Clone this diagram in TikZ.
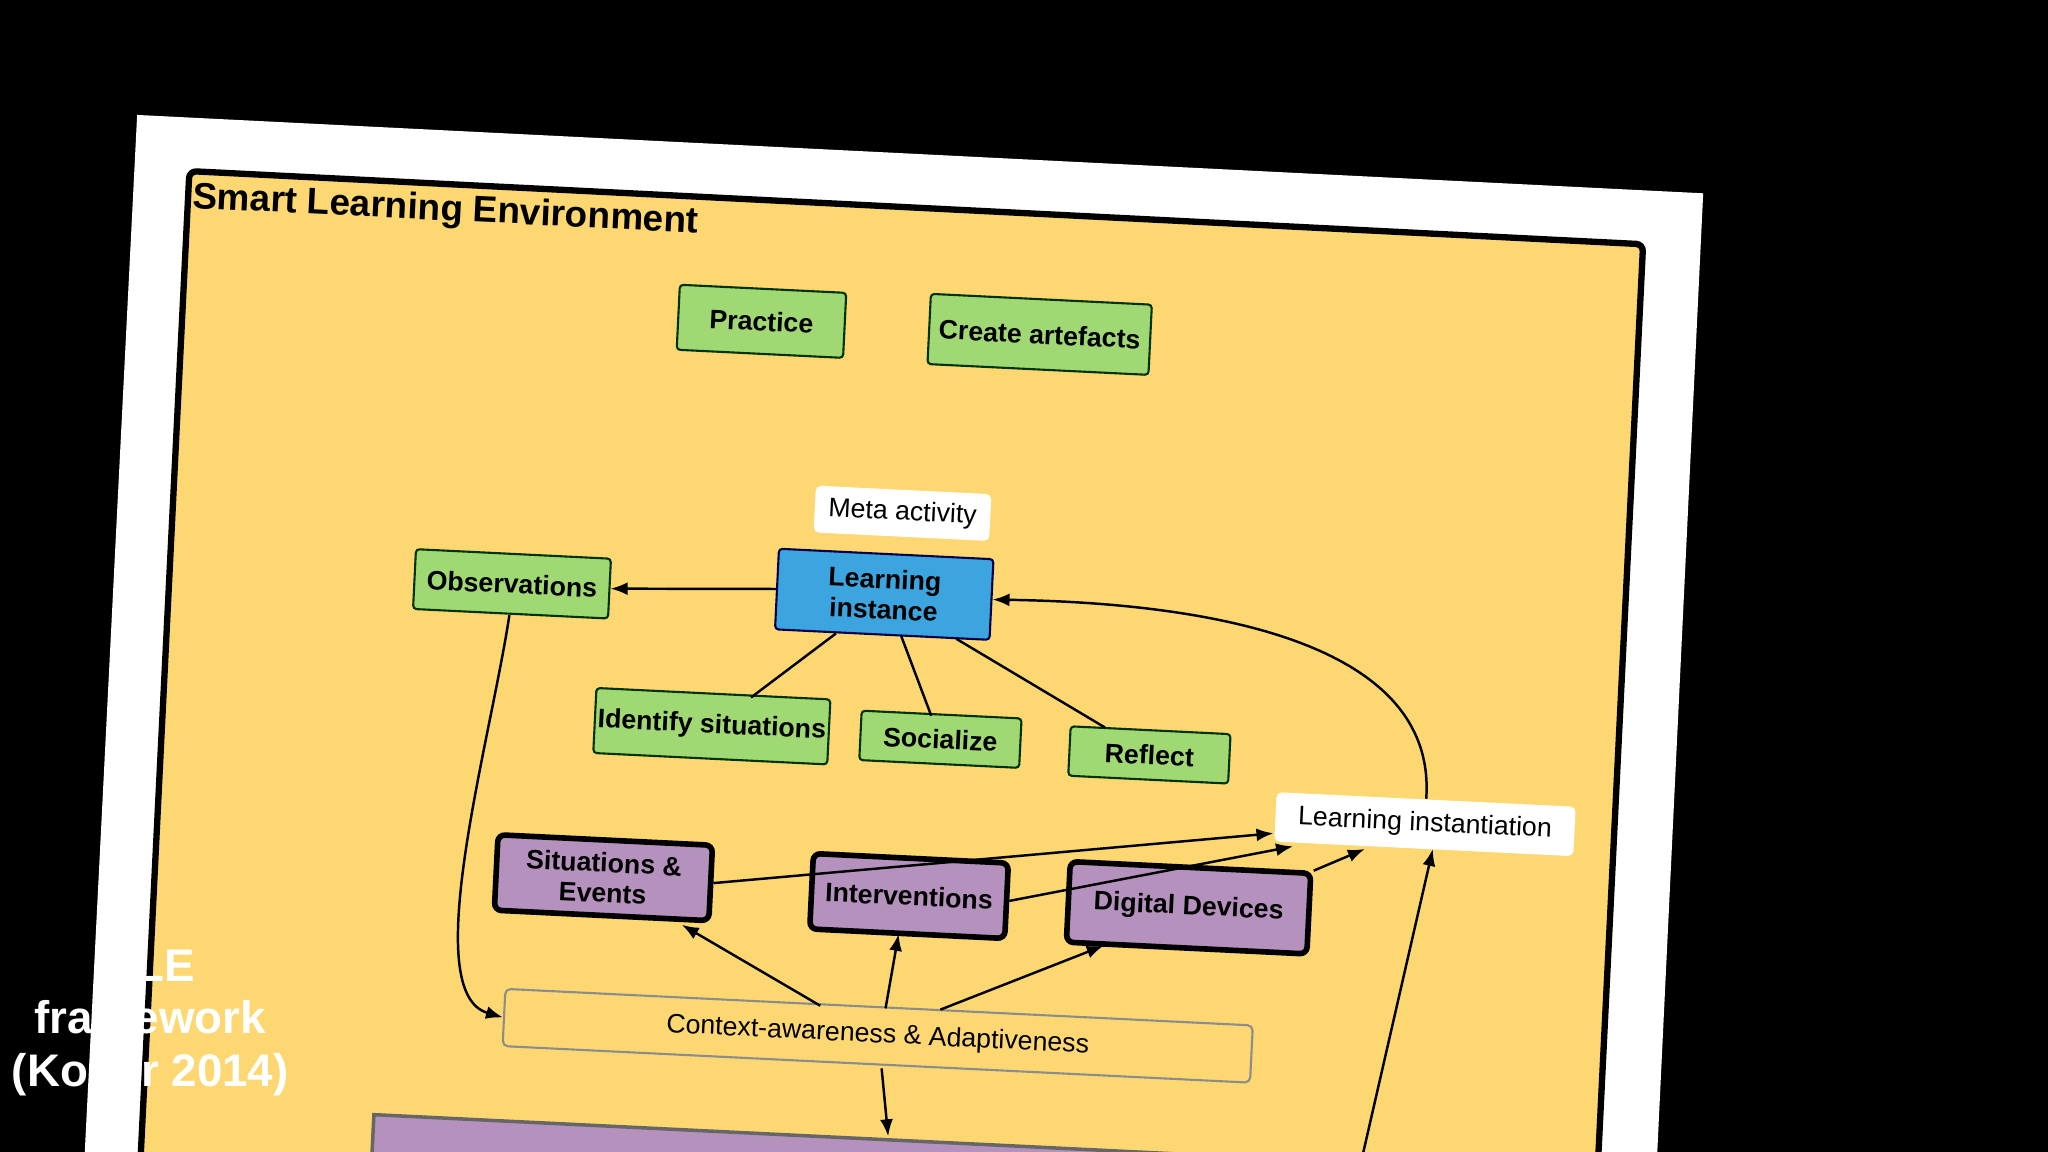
\documentclass[tikz,border=0pt]{standalone}
\usepackage{fontspec}
\setmainfont{Liberation Sans}
\usetikzlibrary{arrows.meta}
\pgfdeclarelayer{back}\pgfdeclarelayer{lines}
\pgfsetlayers{back,lines,main}
\definecolor{frameyel}{HTML}{FDD872}
\definecolor{boxgreen}{HTML}{A0D874}
\definecolor{boxblue}{HTML}{3CA4DE}
\definecolor{boxpurple}{HTML}{B592BE}
\begin{document}
\begin{tikzpicture}[x=0.01306cm,y=-0.01306cm,
 sz/.style 2 args={minimum width=#1*0.3703pt,minimum height=#2*0.3703pt},
 base/.style={rotate=-2.8,align=center,inner sep=0pt,font=\fontsize{7.6}{8.6}\selectfont\bfseries},
 green/.style={base,draw=black!60!green!50!black,fill=boxgreen,line width=0.6pt,rounded corners=1pt},
 wbox/.style={base,fill=white,rounded corners=1.5pt,font=\fontsize{7.6}{8.6}\selectfont},
 purp/.style={base,draw=black,fill=boxpurple,line width=1.6pt,rounded corners=2pt},
 arr/.style={-{Latex[length=1.7mm,width=1.3mm]},line width=0.7pt},
 ln/.style={line width=0.7pt}]
\useasboundingbox (0,0) rectangle (1568,882);
\fill[black] (0,0) rectangle (1568,882);
\fill[white] (105,88) -- (1304,148) -- (1268,900) -- (64,900) -- cycle;
\filldraw[fill=frameyel,draw=black,line width=1.8pt,rounded corners=2pt] (145,131) -- (1258,187) -- (1222,920) -- (106,920) -- cycle;
\node[base,anchor=west,font=\fontsize{10.5}{12}\selectfont\bfseries] (title) at (147,152) {Smart Learning Environment};

\node[green,sz={128}{50}] (prac) at (583,246) {Practice};
\node[green,sz={170}{54}] (art) at (796,256) {Create artefacts};
\node[wbox,sz={135}{36}] (meta) at (691,393) {Meta activity};
\node[base,draw=black!70!blue,fill=boxblue,line width=0.6pt,rounded corners=1pt,sz={165}{62}] (li) at (677,455) {Learning\\instance};
\node[green,sz={150}{46}] (obs) at (392,447) {Observations};
\node[green,sz={180}{50}] (ids) at (545,556) {Identify situations};
\node[green,sz={123}{38}] (soc) at (720,566) {Socialize};
\node[green,sz={123}{38}] (ref) at (880,578) {Reflect};
\node[wbox,sz={230}{38}] (inst) at (1091,631) {Learning instantiation};
\node[purp,sz={165}{58}] (sit) at (462,672) {Situations \&\\Events};
\node[purp,sz={150}{58}] (int) at (696,686) {Interventions};
\node[purp,sz={185}{62}] (dev) at (910,695) {Digital Devices};
\node[base,draw=black!45,fill=frameyel,line width=0.6pt,rounded corners=1.5pt,sz={575}{44},font=\fontsize{7.6}{8.6}\selectfont] (ctx) at (672,793) {Context-awareness \& Adaptiveness};
\node[base,draw=black!60,fill=boxpurple,line width=1pt,sz={900}{60},anchor=north west] (bottom) at (285,852) {};
\coordinate (low) at (1042,890);

\begin{pgfonlayer}{lines}
\draw[ln] (595,273) -- (661,428);
\draw[ln] (780,283) -- (697,428);
\end{pgfonlayer}
\draw[arr] (li.west) -- (obs.east);
\draw[ln] (640,485) -- (575,534);
\draw[ln] (690,487) -- (713,548);
\draw[ln] (732,489) -- (846,557);
\draw[arr] (390,471) .. controls (375,570) and (320,760) .. (ctx.west);
\draw[arr] (inst.north) .. controls (1100,500) and (950,462) .. (li.east);
\draw[arr] (sit.east) -- (975,638);
\draw[arr] (int.east) -- (990,648);
\draw[arr] (dev.north east) -- (1045,650);
\draw[arr] (628,770) -- (522,708);
\draw[arr] (678,772) -- (688,715);
\draw[arr] (720,773) -- (845,724);
\draw[arr] (675,818) -- (680,870);
\draw[arr] (low) -- (1097,650);

\node[align=center,text=white,font=\fontsize{13}{15}\selectfont\bfseries] (sle) at (115,783) {SLE\\framework\\(Koper 2014)};
\end{tikzpicture}
\end{document}
